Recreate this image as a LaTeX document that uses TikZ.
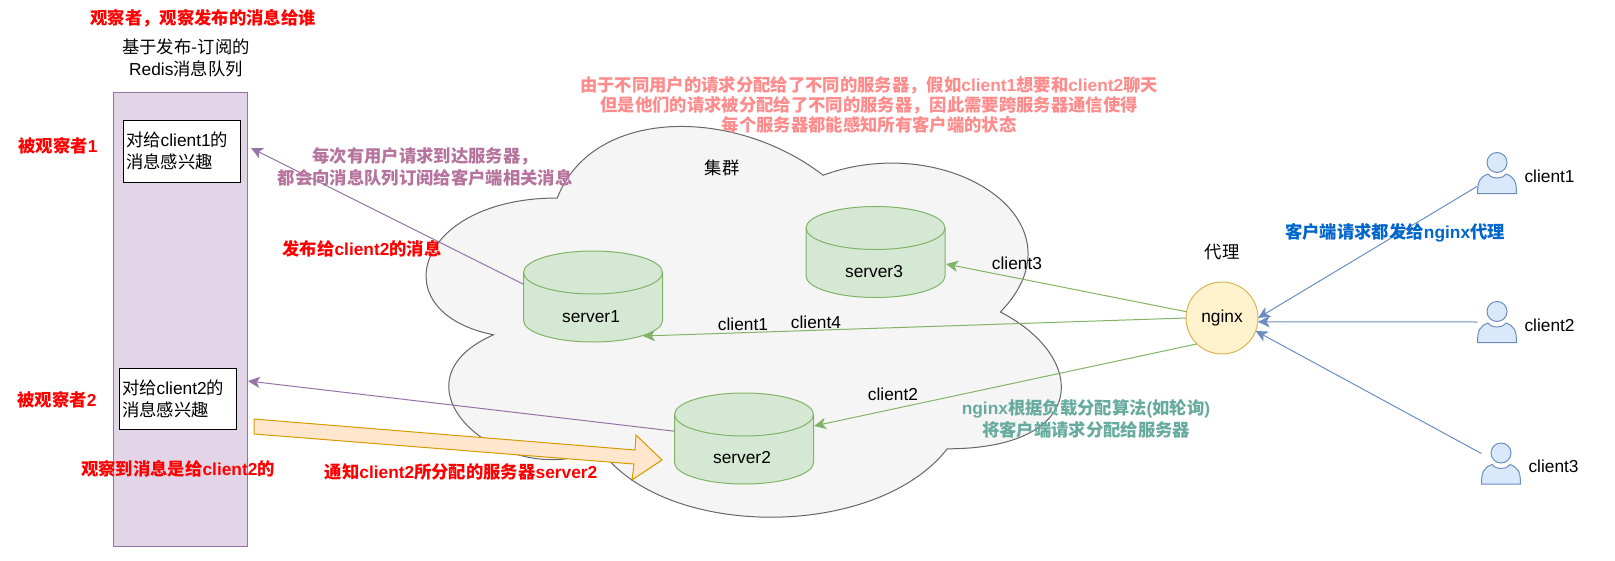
\documentclass[tikz,border=0pt]{standalone}
\usepackage{fontspec}
\setmainfont{Liberation Sans}
\newfontfamily\cjk{Noto Sans CJK SC}
\newcommand{\zh}[1]{{\cjk #1}}
\usetikzlibrary{calc}
\usetikzlibrary{arrows.meta}
\definecolor{purplefill}{HTML}{E1D5E7}
\definecolor{purpleline}{HTML}{9673A6}
\definecolor{greenfill}{HTML}{D5E8D4}
\definecolor{greenline}{HTML}{82B366}
\definecolor{bluefill}{HTML}{DAE8FC}
\definecolor{blueline}{HTML}{6C8EBF}
\definecolor{yellowfill}{HTML}{FFF2CC}
\definecolor{yellowline}{HTML}{D6B656}
\definecolor{orangefill}{HTML}{FFE6CC}
\definecolor{orangeline}{HTML}{D79B00}
\definecolor{cloudfill}{HTML}{F5F5F5}
\definecolor{cloudline}{HTML}{666666}
\definecolor{pinktxt}{HTML}{FF8C8C}
\definecolor{mauvetxt}{HTML}{B5739D}
\definecolor{tealtxt}{HTML}{67AB9F}
\definecolor{bluetxt}{HTML}{0066CC}
\tikzset{
  person/.pic={
    \draw[line width=.75pt, blueline, fill=bluefill] (-19.5,20.5) .. controls (-19.5,8) and (-17,4) .. (-9,1)
      .. controls (-6,4.5) and (-3,5) .. (0,5) .. controls (3,5) and (6,4.5) .. (9,1)
      .. controls (17,4) and (19.5,8) .. (19.5,20.5) -- cycle;
    \draw[line width=.75pt, blueline, fill=bluefill] (0,-10.5) circle (10);
  },
  database/.pic={
    \draw[line width=.75pt, greenline, fill=greenfill] (-69.5,-24) .. controls (-69.5,-35.9) and (-38.4,-45.5) .. (0,-45.5)
      .. controls (38.4,-45.5) and (69.5,-35.9) .. (69.5,-24) -- (69.5,24)
      .. controls (69.5,35.9) and (38.4,45.5) .. (0,45.5) .. controls (-38.4,45.5) and (-69.5,35.9) .. (-69.5,24) -- cycle;
    \draw[line width=.75pt, greenline] (-69.5,-24) .. controls (-69.5,-12.1) and (-38.4,-2.5) .. (0,-2.5)
      .. controls (38.4,-2.5) and (69.5,-12.1) .. (69.5,-24);
  }
}
\begin{document}
\begin{tikzpicture}[x=.75pt, y=-.75pt, every node/.append style={font=\fontsize{13pt}{16.5pt}\selectfont, inner sep=0pt, outer sep=0pt, align=center},
    redlabel/.style={text=red, font=\fontsize{13pt}{16.5pt}\selectfont\bfseries},
    serverbox/.style={minimum width=104.25pt, minimum height=68.25pt},
    arrowline/.style={line width=.75pt, -{Stealth[length=9pt, width=8.5pt, inset=2.5pt]}},
    interest/.style={draw=black, fill=white, line width=.75pt},
    userbox/.style={minimum width=29.25pt, minimum height=30.75pt}]
  \useasboundingbox (0,0) rectangle (1615,560);
  \begin{scope}[shift={(380,84)}, x=531.75pt, y=-342pt]
    \draw[line width=.75pt, cloudline, fill=cloudfill] (.25,.25) .. controls (.05,.25) and (0,.5) .. (.16,.55)
      .. controls (0,.66) and (.18,.9) .. (.31,.8) .. controls (.4,1) and (.7,1) .. (.8,.8)
      .. controls (1,.8) and (1,.6) .. (.875,.5) .. controls (1,.3) and (.8,.1) .. (.625,.2)
      .. controls (.5,.05) and (.3,.05) .. (.25,.25) -- cycle;
  \end{scope}
  \node[draw=purpleline, fill=purplefill, line width=.75pt, minimum width=100.5pt, minimum height=340pt] (redis) at (180.5,319.5) {};
  \node[interest, minimum width=87.75pt, minimum height=46.5pt] (sub1) at (181.5,151) {};
  \node[interest, minimum width=87.75pt, minimum height=45.75pt] (sub2) at (177.5,398.5) {};
  \node[anchor=west, align=left] (sub1txt) at ($(sub1.west)+(3,0)$) {\zh{对给}client1\zh{的}\\\zh{消息感兴趣}};
  \node[anchor=west, align=left] (sub2txt) at ($(sub2.west)+(3,0)$) {\zh{对给}client2\zh{的}\\\zh{消息感兴趣}};
  \foreach \n/\x/\y/\lx/\ly in {1/593/296.5/591/317, 2/744/438.5/742/458, 3/875.5/252/874/272} {
    \node[serverbox] (server\n) at (\x,\y) {};
    \pic at (server\n) {database};
    \node (server\n txt) at (\lx,\ly) {server\n};
  }
  \node[circle, draw=yellowline, fill=yellowfill, line width=.75pt, minimum size=54pt] (nginx) at (1222,318) {nginx};
  \foreach \n/\x/\y in {1/1497/173, 2/1497/322, 3/1501/463.5} {
    \node[userbox] (user\n) at (\x,\y) {};
    \pic at (user\n) {person};
    \node[anchor=west] (client\n) at ($(user\n.east)+(8,3)$) {client\n};
  }
  \coordinate (tip1) at (251,148);
  \coordinate (tip2) at (248,381);
  \coordinate (tip3) at (946,264);
  \coordinate (tip4) at (643,336);
  \coordinate (tip5) at (814,426);
  \draw[arrowline, purpleline] (server1.170) -- (tip1);
  \draw[arrowline, purpleline] (server2.174) -- (tip2);
  \draw[arrowline, greenline] (nginx.170) -- (tip3);
  \draw[arrowline, greenline] (nginx.west) -- (tip4);
  \draw[arrowline, greenline] (nginx.226) -- (tip5);
  \draw[arrowline, blueline] (user1.214) -- (nginx.east);
  \draw[arrowline, blueline] (user2.west) -- (nginx.-6);
  \draw[arrowline, blueline] (user3.153) -- (nginx.-21);
  \draw[line width=.75pt, orangeline, fill=orangefill] (254,419) -- (635,450) -- (636,435) -- (662,460) -- (632,480) -- (634,464) -- (254,434) -- cycle;
  \node (redistxt) at (186,58) {\zh{基于发布-订阅的}\\Redis\zh{消息队列}};
  \node (clustertxt) at (722,168) {\zh{集群}};
  \node (proxytxt) at (1222,252) {\zh{代理}};
  \node (c3txt) at (1017,263) {client3};
  \node (c1txt) at (743,324) {client1};
  \node (c4txt) at (816,322) {client4};
  \node (c2txt) at (893,394) {client2};
  \node[redlabel] (observertxt) at (203,18) {\zh{观察者，观察发布的消息给谁}};
  \node[redlabel] (observed1) at (58,146) {\zh{被观察者}1};
  \node[redlabel] (observed2) at (57,400) {\zh{被观察者}2};
  \node[redlabel] (publishtxt) at (362,249) {\zh{发布给}client2\zh{的消息}};
  \node[redlabel] (seentxt) at (178,469) {\zh{观察到消息是给}client2\zh{的}};
  \node[redlabel] (notifytxt) at (461,472) {\zh{通知}client2\zh{所分配的服务器}server2};
  \node[font=\fontsize{13pt}{16.5pt}\selectfont\bfseries, text=mauvetxt] (subscribetxt) at (425,167) {\zh{每次有用户请求到达服务器，}\\\zh{都会向消息队列订阅给客户端相关消息}};
  \node[font=\fontsize{13pt}{15.3pt}\selectfont\bfseries, text=pinktxt] (crosstxt) at (869,105) {\zh{由于不同用户的请求分配给了不同的服务器，假如}client1\zh{想要和}client2\zh{聊天}\\\zh{但是他们的请求被分配给了不同的服务器，因此需要跨服务器通信使得}\\\zh{每个服务器都能感知所有客户端的状态}};
  \node[font=\fontsize{13pt}{16.5pt}\selectfont\bfseries, text=tealtxt] (balancetxt) at (1086,419) {nginx\zh{根据负载分配算法}(\zh{如轮询})\\\zh{将客户端请求分配给服务器}};
  \node[font=\fontsize{13pt}{16.5pt}\selectfont\bfseries, text=bluetxt] (proxyreqtxt) at (1395,233) {\zh{客户端请求都发给}nginx\zh{代理}};
\end{tikzpicture}
\end{document}
